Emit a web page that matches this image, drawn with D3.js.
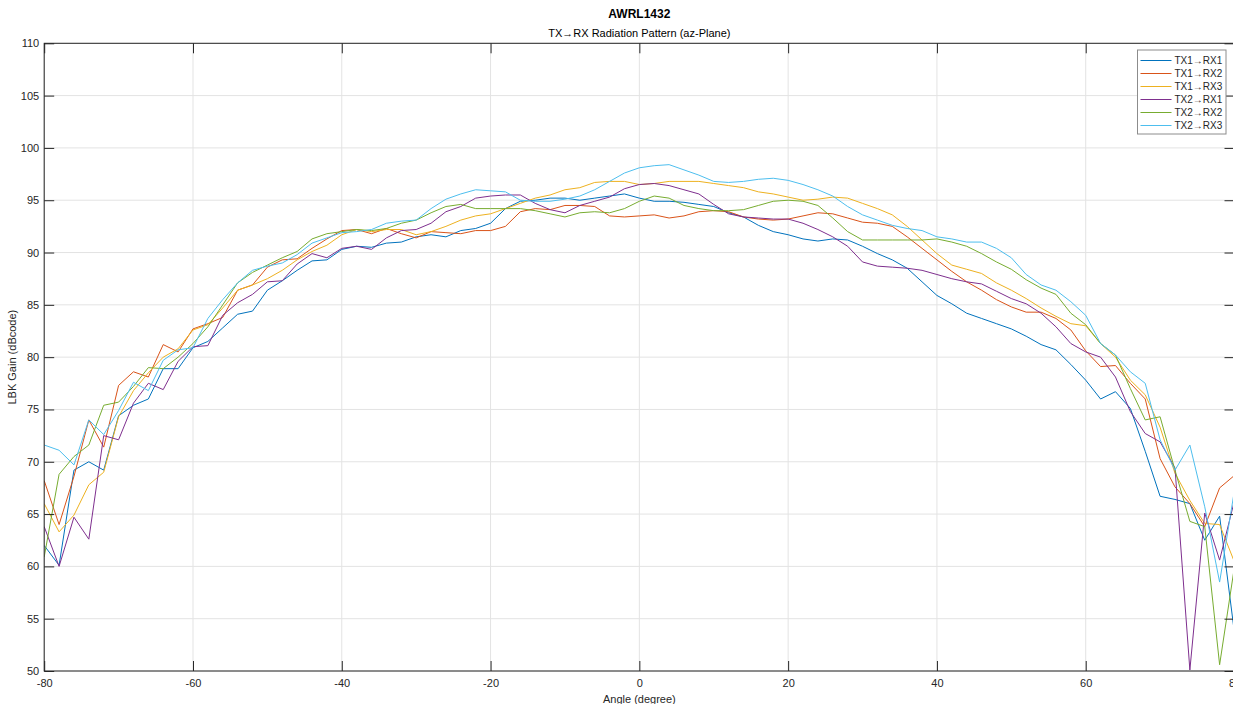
<!DOCTYPE html>
<html>
<head>
<meta charset="utf-8">
<script src="https://cdn.jsdelivr.net/npm/d3@7"></script>
<style>
  body { margin: 0; background: #fff; }
  svg { display: block; font-family: "Liberation Sans", Arial, sans-serif; }
</style>
</head>
<body>
<svg width="1233" height="704"></svg>
<script>
// Angles sampled every 2 degrees, -80 .. 80
const angles = d3.range(-80, 81, 2);

const seriesNames = ["TX1\u2192RX1", "TX1\u2192RX2", "TX1\u2192RX3", "TX2\u2192RX1", "TX2\u2192RX2", "TX2\u2192RX3"];

const tx1rx1 = [62.0, 60.1, 69.2, 70.0, 69.2, 74.4, 75.4, 76.0, 78.9, 78.9,
  80.9, 81.5, 82.8, 84.1, 84.4, 86.4, 87.3, 88.3, 89.2, 89.3,
  90.3, 90.6, 90.5, 90.9, 91.0, 91.5, 91.7, 91.5, 92.1, 92.3,
  92.8, 94.2, 94.9, 95.0, 95.2, 95.2, 95.0, 95.2, 95.4, 95.6,
  95.2, 94.9, 94.9, 94.8, 94.6, 94.4, 93.8, 93.4, 92.6, 92.0,
  91.7, 91.3, 91.1, 91.3, 91.2, 90.6, 89.9, 89.3, 88.5, 87.2,
  85.9, 85.1, 84.2, 83.7, 83.2, 82.7, 82.0, 81.2, 80.7, 79.3,
  77.8, 76.0, 76.7, 75.1, 71.0, 66.7, 66.4, 66.0, 62.5, 64.8, 53.6];

const tx1rx2 = [68.2, 64.0, 68.6, 74.0, 71.4, 77.3, 78.6, 78.1, 81.2, 80.5,
  82.7, 83.2, 83.8, 86.4, 86.9, 88.6, 89.3, 89.4, 90.4, 91.3,
  92.1, 92.2, 91.8, 92.3, 91.8, 91.4, 92.0, 91.9, 91.8, 92.1,
  92.1, 92.5, 93.9, 94.2, 94.1, 94.5, 94.5, 94.4, 93.5, 93.4,
  93.5, 93.6, 93.3, 93.5, 93.9, 94.0, 93.9, 93.4, 93.2, 93.1,
  93.2, 93.5, 93.8, 93.7, 93.3, 92.9, 92.8, 92.5, 91.5, 90.4,
  89.3, 88.2, 87.2, 86.4, 85.5, 84.8, 84.3, 84.3, 83.7, 82.6,
  80.6, 79.1, 79.2, 77.5, 76.0, 70.3, 67.6, 66.0, 63.8, 67.5, 68.7];

const tx1rx3 = [66.0, 63.3, 64.9, 67.8, 69.0, 74.3, 76.8, 78.5, 80.0, 80.8,
  82.6, 83.1, 84.7, 86.4, 86.9, 87.5, 88.3, 89.3, 90.1, 90.7,
  91.7, 92.2, 92.0, 92.2, 92.2, 91.7, 92.0, 92.5, 93.1, 93.5,
  93.7, 94.2, 94.7, 95.2, 95.5, 96.0, 96.2, 96.7, 96.8, 96.8,
  96.5, 96.6, 96.8, 96.8, 96.8, 96.6, 96.4, 96.2, 95.8, 95.6,
  95.3, 95.0, 95.1, 95.3, 95.2, 94.7, 94.2, 93.6, 92.5, 91.2,
  89.9, 88.8, 88.4, 88.0, 87.1, 86.4, 85.6, 84.7, 83.9, 83.2,
  83.0, 81.3, 80.0, 77.8, 76.4, 73.3, 68.9, 66.3, 64.1, 64.0, 60.4];

const tx2rx1 = [63.8, 60.0, 64.7, 62.6, 72.5, 72.1, 75.6, 77.5, 76.9, 79.6,
  81.0, 81.1, 84.0, 85.2, 86.0, 87.2, 87.3, 88.9, 89.9, 89.5,
  90.4, 90.6, 90.3, 91.4, 92.1, 92.2, 92.8, 93.9, 94.4, 95.2,
  95.4, 95.5, 95.5, 94.7, 94.1, 93.8, 94.5, 94.9, 95.3, 96.1,
  96.5, 96.6, 96.4, 96.0, 95.6, 94.6, 93.7, 93.4, 93.3, 93.2,
  93.2, 92.8, 92.2, 91.5, 90.6, 89.1, 88.7, 88.6, 88.5, 88.3,
  87.9, 87.5, 87.2, 87.0, 86.3, 85.6, 85.1, 84.2, 82.9, 81.3,
  80.5, 80.0, 78.1, 74.8, 72.7, 71.9, 69.4, 50.1, 65.1, 60.6, 66.3];

const tx2rx2 = [60.9, 68.8, 70.5, 71.6, 75.4, 75.7, 77.2, 79.0, 78.9, 80.0,
  81.3, 82.9, 85.0, 87.1, 88.1, 88.8, 89.5, 90.1, 91.3, 91.8,
  92.0, 92.2, 92.1, 92.3, 92.8, 93.1, 93.8, 94.4, 94.6, 94.2,
  94.2, 94.2, 94.2, 94.0, 93.7, 93.4, 93.8, 93.9, 93.8, 94.2,
  94.9, 95.4, 95.2, 94.5, 94.2, 94.0, 94.0, 94.1, 94.5, 94.9,
  95.0, 94.9, 94.5, 93.3, 92.0, 91.2, 91.2, 91.2, 91.2, 91.2,
  91.3, 91.0, 90.6, 89.9, 89.1, 88.4, 87.4, 86.6, 86.0, 84.2,
  83.1, 81.3, 80.2, 77.0, 74.0, 74.3, 69.2, 64.3, 63.8, 50.6, 60.0];

const tx2rx3 = [71.6, 71.1, 69.7, 74.0, 72.6, 74.9, 77.6, 76.8, 79.7, 80.7,
  80.9, 83.7, 85.5, 87.1, 88.3, 88.7, 89.0, 89.8, 90.9, 91.4,
  91.9, 92.0, 92.2, 92.8, 93.0, 93.1, 94.2, 95.1, 95.6, 96.0,
  95.9, 95.8, 95.0, 94.9, 94.9, 95.1, 95.4, 96.0, 96.8, 97.6,
  98.1, 98.3, 98.4, 97.9, 97.4, 96.8, 96.7, 96.8, 97.0, 97.1,
  96.9, 96.5, 96.0, 95.4, 94.4, 93.6, 93.1, 92.6, 92.3, 92.1,
  91.5, 91.3, 91.0, 91.0, 90.4, 89.5, 87.9, 86.9, 86.4, 85.3,
  84.0, 81.3, 80.2, 78.6, 77.5, 72.1, 69.2, 71.6, 65.7, 58.5, 67.3];

const seriesValues = [tx1rx1, tx1rx2, tx1rx3, tx2rx1, tx2rx2, tx2rx3];

// MATLAB default line colours
const colors = ["#0072BD", "#D95319", "#EDB120", "#7E2F8E", "#77AC30", "#4DBEEE"];

const xTicks = [-80, -60, -40, -20, 0, 20, 40, 60, 80];
const yTicks = [50, 55, 60, 65, 70, 75, 80, 85, 90, 95, 100, 105, 110];

const plotLeft = 44.2, plotRight = 1234.5, plotTop = 43.3, plotBottom = 671;
const axisColor = "#262626";

const x = d3.scaleLinear().domain([-80, 80]).range([plotLeft, plotRight]);
const y = d3.scaleLinear().domain([50, 110]).range([plotBottom, plotTop]);

const svg = d3.select("svg");

// Grid lines
const grid = svg.append("g").attr("stroke", "#e3e3e3").attr("stroke-width", 1);
grid.selectAll("line.gx")
  .data(xTicks)
  .join("line")
  .attr("class", "gx")
  .attr("x1", (d) => x(d)).attr("x2", (d) => x(d))
  .attr("y1", plotTop).attr("y2", plotBottom);
grid.selectAll("line.gy")
  .data(yTicks)
  .join("line")
  .attr("class", "gy")
  .attr("x1", plotLeft).attr("x2", plotRight)
  .attr("y1", (d) => y(d)).attr("y2", (d) => y(d));

// Data lines
const line = d3.line()
  .x((d, i) => x(angles[i]))
  .y((d) => y(d));

svg.append("clipPath").attr("id", "plotclip")
  .append("rect")
  .attr("x", plotLeft).attr("y", plotTop)
  .attr("width", plotRight - plotLeft).attr("height", plotBottom - plotTop);

svg.append("g")
  .attr("clip-path", "url(#plotclip)")
  .selectAll("path")
  .data(seriesValues)
  .join("path")
  .attr("fill", "none")
  .attr("stroke", (d, i) => colors[i])
  .attr("stroke-width", 1)
  .attr("stroke-linejoin", "round")
  .attr("d", line);

// Axes (MATLAB box with inward ticks)
const tickLen = 10;
const plainNum = (d) => String(d);
const axisG = svg.append("g").attr("stroke", axisColor).attr("stroke-width", 1);

axisG.append("rect")
  .attr("x", plotLeft).attr("y", plotTop)
  .attr("width", plotRight - plotLeft).attr("height", plotBottom - plotTop)
  .attr("fill", "none");

const xAxisBottom = d3.axisBottom(x).tickValues(xTicks).tickFormat(plainNum)
  .tickSizeInner(-tickLen).tickSizeOuter(0).tickPadding(8);
const xAxisTop = d3.axisTop(x).tickValues(xTicks).tickSizeInner(-tickLen).tickSizeOuter(0).tickFormat("");
const yAxisLeft = d3.axisLeft(y).tickValues(yTicks).tickFormat(plainNum)
  .tickSizeInner(-tickLen).tickSizeOuter(0).tickPadding(5);
const yAxisRight = d3.axisRight(y).tickValues(yTicks).tickSizeInner(-tickLen).tickSizeOuter(0).tickFormat("");

function styleAxis(g) {
  g.select(".domain").remove();
  g.selectAll(".tick line").attr("stroke", axisColor);
  g.selectAll(".tick text")
    .attr("fill", axisColor)
    .attr("font-size", 11)
    .attr("font-family", "Liberation Sans, Arial, sans-serif");
}

svg.append("g").attr("transform", `translate(0,${plotBottom})`).call(xAxisBottom).call(styleAxis);
svg.append("g").attr("transform", `translate(0,${plotTop})`).call(xAxisTop).call(styleAxis);
svg.append("g").attr("transform", `translate(${plotLeft},0)`).call(yAxisLeft).call(styleAxis);
svg.append("g").attr("transform", `translate(${plotRight},0)`).call(yAxisRight).call(styleAxis);

// Titles and axis labels
const midX = (plotLeft + plotRight) / 2;

svg.append("text")
  .attr("x", midX).attr("y", 18)
  .attr("text-anchor", "middle")
  .attr("font-size", 12).attr("font-weight", "bold")
  .attr("fill", "#000")
  .text("AWRL1432");

svg.append("text")
  .attr("x", midX).attr("y", 37)
  .attr("text-anchor", "middle")
  .attr("font-size", 11)
  .attr("fill", "#000")
  .text("TX\u2192RX Radiation Pattern (az-Plane)");

svg.append("text")
  .attr("x", midX).attr("y", 703)
  .attr("text-anchor", "middle")
  .attr("font-size", 11)
  .attr("fill", axisColor)
  .text("Angle (degree)");

svg.append("text")
  .attr("transform", `translate(16,${(plotTop + plotBottom) / 2}) rotate(-90)`)
  .attr("text-anchor", "middle")
  .attr("font-size", 11)
  .attr("fill", axisColor)
  .text("LBK Gain (dBcode)");

// Legend
const legend = svg.append("g").attr("transform", "translate(1137.5,50)");
legend.append("rect")
  .attr("width", 88.5).attr("height", 84)
  .attr("fill", "#fff")
  .attr("stroke", "#8c8c8c")
  .attr("stroke-width", 1);

const item = legend.selectAll("g.item")
  .data(seriesNames)
  .join("g")
  .attr("class", "item")
  .attr("transform", (d, i) => `translate(0,${10.5 + i * 13})`);

item.append("line")
  .attr("x1", 3).attr("x2", 34)
  .attr("stroke", (d, i) => colors[i])
  .attr("stroke-width", 1);

item.append("text")
  .attr("x", 37).attr("y", 3.5)
  .attr("font-size", 10)
  .attr("fill", axisColor)
  .text((d) => d);
</script>
</body>
</html>
